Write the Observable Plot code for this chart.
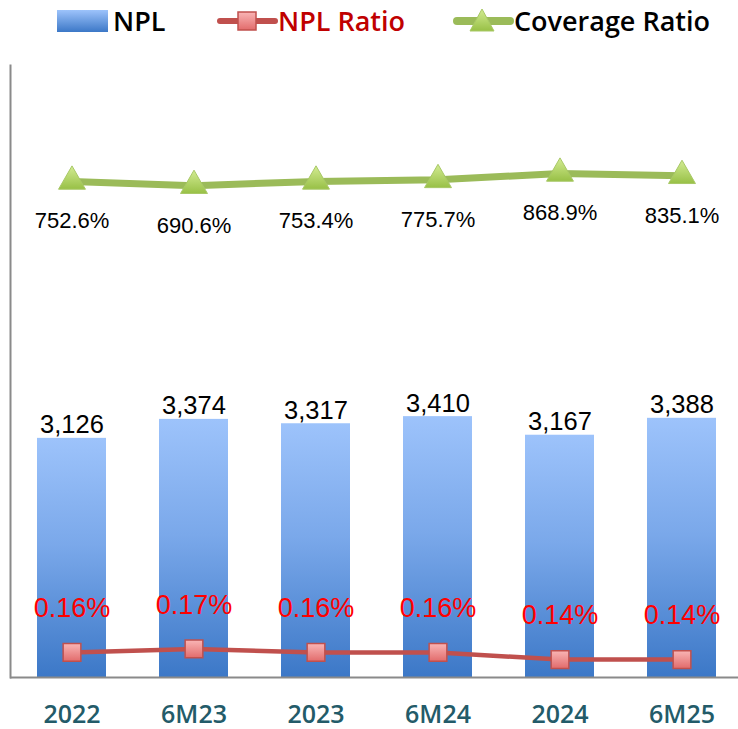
<!DOCTYPE html>
<html><head><meta charset="utf-8">
<script src="https://cdn.jsdelivr.net/npm/d3@7"></script>
<script src="https://cdn.jsdelivr.net/npm/@observablehq/plot@0.6"></script>
<style>
body{margin:0;background:#fff;}
#legend{height:40px;position:relative;}
#chart svg{display:block;}
</style>
</head><body>
<div id="legend"></div>
<div id="chart"></div>
<script>
const categories = ["2022","6M23","2023","6M24","2024","6M25"];
const npl = [3126, 3374, 3317, 3410, 3167, 3388];
const nplRatio = [0.16, 0.17, 0.16, 0.16, 0.14, 0.14];
const coverageRatio = [752.6, 690.6, 753.4, 775.7, 868.9, 835.1];
const nplLabels = ["3,126","3,374","3,317","3,410","3,167","3,388"];
const nplRatioLabels = ["0.16%","0.17%","0.16%","0.16%","0.14%","0.14%"];
const coverageLabels = ["752.6%","690.6%","753.4%","775.7%","868.9%","835.1%"];

const rows = categories.map((c,i)=>({cat:c, npl:npl[i], ratio:nplRatio[i], cov:coverageRatio[i],
  nplLab:nplLabels[i], ratioLab:nplRatioLabels[i], covLab:coverageLabels[i]}));

// secondary quantities placed on the primary (NPL) scale
const covY = d => 5807 + 0.9*d.cov;
const ratioY = d => -409 + 4600*d.ratio;

const numFont = "Liberation Sans, Arial, sans-serif";

const defs = () => {
  const ns = "http://www.w3.org/2000/svg";
  const g = document.createElementNS(ns, "defs");
  g.innerHTML = `
    <linearGradient id="barGrad" x1="0" y1="0" x2="0" y2="1">
      <stop offset="0" stop-color="#9dc3fb"/>
      <stop offset="0.45" stop-color="#7aa8ea"/>
      <stop offset="1" stop-color="#3c78c7"/>
    </linearGradient>
    <linearGradient id="sqGrad" x1="0" y1="0" x2="0" y2="1">
      <stop offset="0" stop-color="#f9b5b5"/>
      <stop offset="1" stop-color="#e26b6b"/>
    </linearGradient>
    <linearGradient id="triGrad" x1="0" y1="0" x2="0" y2="1">
      <stop offset="0" stop-color="#d3ec93"/>
      <stop offset="1" stop-color="#98c046"/>
    </linearGradient>`;
  return g;
};

const plot = Plot.plot({
  width: 738,
  height: 689,
  marginTop: 25,
  marginBottom: 52,
  marginLeft: 10,
  marginRight: 0,
  x: {domain: categories, range: [11, 743], paddingInner: 0.434, paddingOuter: 0.217, axis: null},
  y: {domain: [0, 8000], axis: null},
  marks: [
    defs,
    Plot.barY(rows, {x: "cat", y: "npl", fill: "url(#barGrad)"}),
    Plot.ruleY([0], {stroke: "#8a8a8a", strokeWidth: 2}),
    Plot.frame({anchor: "left", stroke: "#8a8a8a", strokeWidth: 2}),
    Plot.text(rows, {x: "cat", y: "npl", text: "nplLab", lineAnchor: "bottom", dy: -5,
      fontSize: 25.5, fontFamily: numFont, fill: "#000"}),
    Plot.line(rows, {x: "cat", y: covY, stroke: "#9bbb59", strokeWidth: 7, curve: "linear"}),
    Plot.dot(rows, {x: "cat", y: covY, symbol: "triangle", r: 10, fill: "url(#triGrad)", stroke: "#a8c866", strokeWidth: 1}),
    Plot.text(rows, {x: "cat", y: covY, text: "covLab", dy: 40, fontSize: 22, fontFamily: numFont, fill: "#000"}),
    Plot.line(rows, {x: "cat", y: ratioY, stroke: "#c0504d", strokeWidth: 4.5}),
    Plot.dot(rows, {x: "cat", y: ratioY, symbol: "square", r: 10, fill: "url(#sqGrad)", stroke: "#c0504d", strokeWidth: 1.5}),
    Plot.text(rows, {x: "cat", y: ratioY, text: "ratioLab", dy: -44, fontSize: 27, fontFamily: numFont, fill: "#ff0000"}),
    Plot.text(rows, {x: "cat", y: 0, text: "cat", dy: 37, fontSize: 25, fontWeight: 600,
      fontFamily: "Open Sans, sans-serif", fill: "#235b69"})
  ]
});
document.getElementById("chart").appendChild(plot);

// legend
const lf = "Open Sans, sans-serif";
document.getElementById("legend").innerHTML = `
<svg width="738" height="40" style="display:block">
  <defs>
    <linearGradient id="lgBar" x1="0" y1="0" x2="0" y2="1">
      <stop offset="0" stop-color="#9dc3fb"/><stop offset="1" stop-color="#3c78c7"/>
    </linearGradient>
    <linearGradient id="lgSq" x1="0" y1="0" x2="0" y2="1">
      <stop offset="0" stop-color="#f9b5b5"/><stop offset="1" stop-color="#e26b6b"/>
    </linearGradient>
    <linearGradient id="lgTri" x1="0" y1="0" x2="0" y2="1">
      <stop offset="0" stop-color="#d3ec93"/><stop offset="1" stop-color="#98c046"/>
    </linearGradient>
  </defs>
  <rect x="57" y="10" width="51" height="22" fill="url(#lgBar)"/>
  <text x="113" y="20" dominant-baseline="central" font-family="${lf}" font-size="27" font-weight="600" fill="#000">NPL</text>
  <line x1="220" y1="21" x2="275" y2="21" stroke="#c0504d" stroke-width="6" stroke-linecap="round"/>
  <rect x="238" y="12" width="18" height="18" fill="url(#lgSq)" stroke="#c0504d" stroke-width="1.5"/>
  <text x="278" y="20" dominant-baseline="central" font-family="${lf}" font-size="27" font-weight="600" fill="#c00000">NPL Ratio</text>
  <line x1="457" y1="21" x2="510" y2="21" stroke="#9bbb59" stroke-width="8" stroke-linecap="round"/>
  <path d="M482,9 L494,31 L470,31 Z" fill="url(#lgTri)" stroke="#a8c866" stroke-width="1"/>
  <text x="514" y="20" dominant-baseline="central" font-family="${lf}" font-size="27" font-weight="600" fill="#000">Coverage Ratio</text>
</svg>`;
</script>
</body></html>
